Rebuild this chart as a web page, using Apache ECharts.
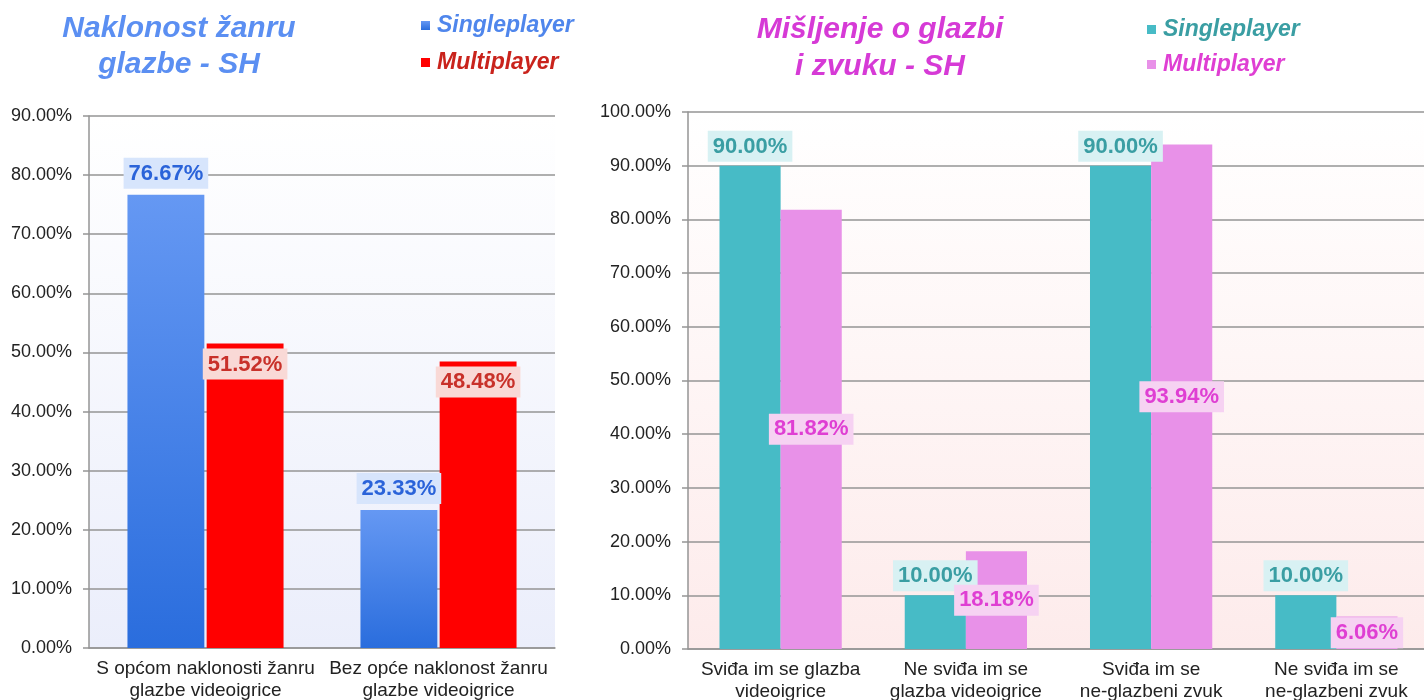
<!DOCTYPE html>
<html>
<head>
<meta charset="utf-8">
<title>Glazba - SH</title>
<script src="https://cdn.jsdelivr.net/npm/echarts@6/dist/echarts.min.js"></script>
<style>
  html, body { margin: 0; padding: 0; background: #fff; }
  #chart { width: 1424px; height: 700px; }
</style>
</head>
<body>
<div id="chart"></div>
<script>
// lijevi graf - naklonost žanru glazbe
const categoriesA = ['S općom naklonosti žanru\nglazbe videoigrice', 'Bez opće naklonost žanru\nglazbe videoigrice'];
const singleA = [76.67, 23.33];
const multiA = [51.52, 48.48];
// desni graf - mišljenje o glazbi i zvuku
const categoriesB = ['Sviđa im se glazba\nvideoigrice', 'Ne sviđa im se\nglazba videoigrice', 'Sviđa im se\nne-glazbeni zvuk', 'Ne sviđa im se\nne-glazbeni zvuk'];
const singleB = [90.0, 10.0, 90.0, 10.0];
const multiB = [81.82, 18.18, 93.94, 6.06];
const seriesNames = ['Singleplayer', 'Multiplayer'];

const FONT = '"Liberation Sans", Arial, sans-serif';
const pct = (v) => v.toFixed(2) + '%';

function grad(top, bottom) {
  return new echarts.graphic.LinearGradient(0, 0, 0, 1, [
    { offset: 0, color: top },
    { offset: 1, color: bottom }
  ]);
}

function yAxis(idx, max) {
  return {
    gridIndex: idx, type: 'value', min: 0, max: max, interval: 10,
    axisLine: { show: true, lineStyle: { color: '#959595', width: 1.5 } },
    axisTick: { show: true, length: 6, lineStyle: { color: '#959595', width: 1.5 } },
    splitLine: { lineStyle: { color: '#959595', width: 1.5 } },
    axisLabel: { formatter: (v) => pct(v), color: '#222', fontSize: 18, fontFamily: FONT, margin: 17 }
  };
}

function xAxis(idx, data) {
  return {
    gridIndex: idx, type: 'category', data: data,
    axisLine: { lineStyle: { color: '#959595', width: 1.5 } },
    axisTick: { length: 6, lineStyle: { color: '#959595', width: 1.5 } },
    axisLabel: { color: '#222', fontSize: 19, fontFamily: FONT, lineHeight: 22, margin: 10, interval: 0 }
  };
}

function barLabel(pos, dist, color, bg) {
  return {
    show: true, position: pos, distance: dist, formatter: (p) => pct(p.value),
    color: color, backgroundColor: bg, fontSize: 22, fontWeight: 'bold', fontFamily: FONT,
    padding: [5, 5, 4, 5]
  };
}

function legend(side, left, top, gap, colors) {
  return {
    left: left, top: top, orient: 'vertical', icon: 'rect',
    itemWidth: 9, itemHeight: 9, itemGap: gap,
    formatter: (n) => n.split('|')[1],
    textStyle: { fontSize: 23, fontWeight: 'bold', fontStyle: 'italic', fontFamily: FONT, padding: [0, 0, 0, 2] },
    data: seriesNames.map((n, i) => ({ name: side + '|' + n, textStyle: { color: colors[i] } }))
  };
}

const chart = echarts.init(document.getElementById('chart'));
chart.setOption({
  animation: false,
  graphic: [
    { type: 'text', x: 179, y: 11, style: { text: 'Naklonost žanru\nglazbe - SH', align: 'center', fill: '#5b8ff2',
      font: 'italic bold 30px ' + FONT, lineHeight: 36 } },
    { type: 'text', x: 880, y: 11, style: { text: 'Mišljenje o glazbi\ni zvuku - SH', align: 'center', fill: '#d63ad6',
      font: 'italic bold 30px ' + FONT, lineHeight: 37 } }
  ],
  legend: [
    legend('L', 416, 9, 14, ['#4f86ec', '#c9231c']),
    legend('R', 1142, 13, 12, ['#3a9ea3', '#df3fd3'])
  ],
  grid: [
    { left: 89, width: 466, top: 116, bottom: 52, show: true, borderWidth: 0, outerBoundsMode: 'none',
      backgroundColor: grad('#ffffff', '#ebeefb') },
    { left: 688, width: 741, top: 112, bottom: 51, show: true, borderWidth: 0, outerBoundsMode: 'none',
      backgroundColor: grad('#ffffff', '#fdebeb') }
  ],
  xAxis: [xAxis(0, categoriesA), xAxis(1, categoriesB)],
  yAxis: [yAxis(0, 90), yAxis(1, 100)],
  series: [
    {
      name: 'L|' + seriesNames[0], type: 'bar', xAxisIndex: 0, yAxisIndex: 0, data: singleA,
      barWidth: '33%', barGap: '3%',
      itemStyle: { color: grad('#6598f3', '#2a6ddd') },
      label: barLabel('top', 6, '#2a63d9', '#d7e5fc')
    },
    {
      name: 'L|' + seriesNames[1], type: 'bar', xAxisIndex: 0, yAxisIndex: 0, data: multiA,
      barWidth: '33%', barGap: '3%',
      itemStyle: { color: '#ff0000' },
      label: barLabel('insideTop', 5, '#c8312a', '#f9d9d6')
    },
    {
      name: 'R|' + seriesNames[0], type: 'bar', xAxisIndex: 1, yAxisIndex: 1, data: singleB,
      barWidth: '33%', barGap: '0%',
      itemStyle: { color: '#47bbc6' },
      label: barLabel('top', 4, '#3a9ea3', '#d8f1f3')
    },
    {
      name: 'R|' + seriesNames[1], type: 'bar', xAxisIndex: 1, yAxisIndex: 1, data: multiB,
      barWidth: '33%', barGap: '0%',
      itemStyle: { color: '#e891e8' },
      label: barLabel('inside', 5, '#df3fd3', '#f6d2f2')
    }
  ]
});
</script>
</body>
</html>
